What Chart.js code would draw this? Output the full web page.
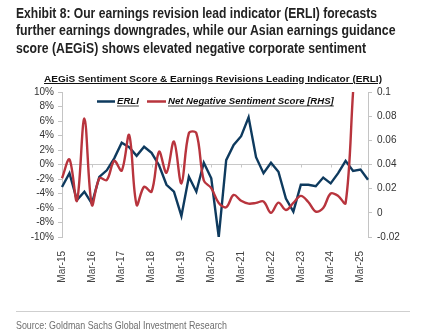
<!DOCTYPE html>
<html>
<head>
<meta charset="utf-8">
<script src="https://cdn.jsdelivr.net/npm/chart.js@4.4.1/dist/chart.umd.min.js"></script>
<style>
  html, body { margin:0; padding:0; background:#fff; }
  #wrap { position:relative; width:440px; height:334px; overflow:hidden; background:#fff; }
  .t { position:absolute; white-space:nowrap; line-height:1; transform-origin:0 0; }
  .h { font-family:"Liberation Sans Narrow","Liberation Sans",Arial,sans-serif; font-weight:bold; font-size:14px; color:#222; left:16px; }
  #ctitle { font-family:"Liberation Sans",Arial,sans-serif; font-weight:bold; font-size:9.4px; color:#111; text-decoration:underline; left:44px; top:73.5px; }
  #src { font-family:"Liberation Sans Narrow","Liberation Sans",Arial,sans-serif; font-size:10.5px; color:#6e6e6e; left:16px; top:320px; }
  #rule { position:absolute; left:16px; top:311px; width:394px; height:1px; background:#cfcfcf; }
  #c { position:absolute; left:0; top:0; }
</style>
</head>
<body>
<div id="wrap">
  <canvas id="c" width="440" height="334"></canvas>
  <div class="t h" id="h1" style="top:5.7px" data-w="361">Exhibit 8: Our earnings revision lead indicator (ERLI) forecasts</div>
  <div class="t h" id="h2" style="top:23.4px" data-w="380">further earnings downgrades, while our Asian earnings guidance</div>
  <div class="t h" id="h3" style="top:41.1px" data-w="350">score (AEGiS) shows elevated negative corporate sentiment</div>
  <div class="t" id="ctitle" data-w="338">AEGiS Sentiment Score &amp; Earnings Revisions Leading Indicator (ERLI)</div>
  <div id="rule"></div>
  <div class="t" id="src" data-w="211">Source: Goldman Sachs Global Investment Research</div>
</div>
<script>
// ---- data ----
const categories = [
  "Mar-15","Jun-15","Sep-15","Dec-15","Mar-16","Jun-16","Sep-16","Dec-16",
  "Mar-17","Jun-17","Sep-17","Dec-17","Mar-18","Jun-18","Sep-18","Dec-18",
  "Mar-19","Jun-19","Sep-19","Dec-19","Mar-20","Jun-20","Sep-20","Dec-20",
  "Mar-21","Jun-21","Sep-21","Dec-21","Mar-22","Jun-22","Sep-22","Dec-22",
  "Mar-23","Jun-23","Sep-23","Dec-23","Mar-24","Jun-24","Sep-24","Dec-24",
  "Mar-25","Jun-25"
];
const erli = [
  -3.1,-1.2,-4.9,-3.75,-5.4,-1.7,-0.8,0.85,
  3.0,2.4,1.2,2.45,1.6,-0.1,-2.8,-3.75,
  -7.1,-1.7,-3.75,0.25,-1.9,-10.0,0.6,2.7,
  3.9,6.5,1.0,-1.2,0.25,-1.0,-4.7,-6.5,
  -2.8,-2.8,-3.0,-1.8,-2.6,-1.2,0.5,-0.9,
  -0.7,-2.1
];
const netNegative = [
  0.0286,0.0442,0.010,0.078,0.0066,0.0286,0.0272,0.043,
  0.035,0.0644,0.0066,0.0216,0.0175,0.0506,0.0332,0.059,
  0.0244,0.066,0.066,0.0268,0.0205,0.0082,0.0046,0.0148,
  0.010,0.0076,0.0082,0.0094,0.0,0.0084,0.0024,0.0082,
  0.014,0.009,0.001,0.004,0.016,0.014,0.008,0.1,
  null,null
];
const leftTicks = ["-10%","-8%","-6%","-4%","-2%","0%","2%","4%","6%","8%","10%"];
const rightTicks = ["-0.02","0","0.02","0.04","0.06","0.08","0.1"];
const seriesNames = ["ERLI","Net Negative Sentiment Score [RHS]"];
const seriesColors = ["#0e3a5e","#b8343d"];

// ---- fit HTML text widths ----
(function(){
  const m = document.createElement('canvas').getContext('2d');
  document.querySelectorAll('[data-w]').forEach(el=>{
    const cs = getComputedStyle(el);
    m.font = `${cs.fontStyle} ${cs.fontWeight} ${cs.fontSize} ${cs.fontFamily}`;
    const w = m.measureText(el.textContent).width;
    const target = parseFloat(el.dataset.w);
    el.style.transform = `scaleX(${target/w})`;
  });
})();

const legendPlugin = {
  id:'customLegend',
  afterDraw(chart){
    const ctx = chart.ctx;
    ctx.save();
    ctx.font = 'italic bold 9.6px "Liberation Sans", Arial, sans-serif';
    ctx.textBaseline = 'middle';
    const y = 101.5;
    const items = [{x0:97,x1:115,tx:117},{x0:147,x1:166,tx:168}];
    items.forEach((it,i)=>{
      ctx.strokeStyle = seriesColors[i];
      ctx.lineWidth = 2.5;
      ctx.beginPath(); ctx.moveTo(it.x0,y); ctx.lineTo(it.x1,y); ctx.stroke();
      ctx.fillStyle = '#111';
      ctx.fillText(seriesNames[i], it.tx, y);
      const w = ctx.measureText(seriesNames[i]).width;
      ctx.strokeStyle = '#111'; ctx.lineWidth = 0.8;
      ctx.beginPath(); ctx.moveTo(it.tx, y+4.5); ctx.lineTo(it.tx+w, y+4.5); ctx.stroke();
    });
    ctx.restore();
  }
};

const zeroTicks = {
  id:'zeroTicks',
  beforeDatasetsDraw(chart){
    const ctx = chart.ctx, xs = chart.scales.x, ys = chart.scales.y;
    const y0 = ys.getPixelForValue(0);
    ctx.save();
    ctx.strokeStyle = '#c8c8c8'; ctx.lineWidth = 1;
    categories.forEach((c,i)=>{
      if (c.startsWith('Mar')) {
        const x = Math.round(xs.getPixelForValue(i))+0.5;
        ctx.beginPath(); ctx.moveTo(x,y0); ctx.lineTo(x,y0+3); ctx.stroke();
      }
    });
    ctx.restore();
  }
};

new Chart(document.getElementById('c'), {
  type:'line',
  data:{
    labels:categories,
    datasets:[
      { label:seriesNames[0], data:erli, yAxisID:'y', borderColor:seriesColors[0], backgroundColor:seriesColors[0],
        borderWidth:2.4, pointRadius:0, tension:0, order:1 },
      { label:seriesNames[1], data:netNegative, yAxisID:'y1', borderColor:seriesColors[1], backgroundColor:seriesColors[1],
        borderWidth:2.4, pointRadius:0, tension:0.35, order:0, spanGaps:false }
    ]
  },
  options:{
    responsive:false, animation:false,
    layout:{ padding:{ top:92, bottom:0, left:0, right:0 } },
    plugins:{ legend:{display:false}, tooltip:{enabled:false}, title:{display:false} },
    scales:{
      x:{
        type:'category',
        grid:{ display:false }, border:{ display:false },
        ticks:{ autoSkip:false, minRotation:90, maxRotation:90, padding:6,
          color:'#444', font:{ family:'"Liberation Sans", Arial, sans-serif', size:10 },
          callback(v,i){ const l = categories[i]; return l.startsWith('Mar') ? l : ''; } },
        afterFit(s){ s.height = 97; }
      },
      y:{
        position:'left', min:-10, max:10,
        border:{ display:true, color:'#c4c4c4' },
        grid:{ drawOnChartArea:true, drawTicks:true, tickLength:4,
          color:(c)=> c.tick && c.tick.value===0 ? '#c8c8c8' : 'rgba(0,0,0,0)', tickColor:'#c4c4c4' },
        ticks:{ stepSize:2, autoSkip:false, padding:4, color:'#333', font:{ family:'"Liberation Sans", Arial, sans-serif', size:10 },
          callback(v){ const i = Math.round((v+10)/2); return leftTicks[i]; } },
        afterFit(s){ s.width = 62; }
      },
      y1:{
        position:'right', min:-0.02, max:0.1,
        border:{ display:true, color:'#c4c4c4' },
        grid:{ drawOnChartArea:false, drawTicks:true, tickLength:4, tickColor:'#c4c4c4' },
        ticks:{ stepSize:0.02, autoSkip:false, padding:5, color:'#333', font:{ family:'"Liberation Sans", Arial, sans-serif', size:10 },
          callback(v){ const i = Math.round((v+0.02)/0.02); return rightTicks[i]; } },
        afterFit(s){ s.width = 72; }
      }
    }
  },
  plugins:[legendPlugin, zeroTicks]
});
</script>
</body>
</html>
